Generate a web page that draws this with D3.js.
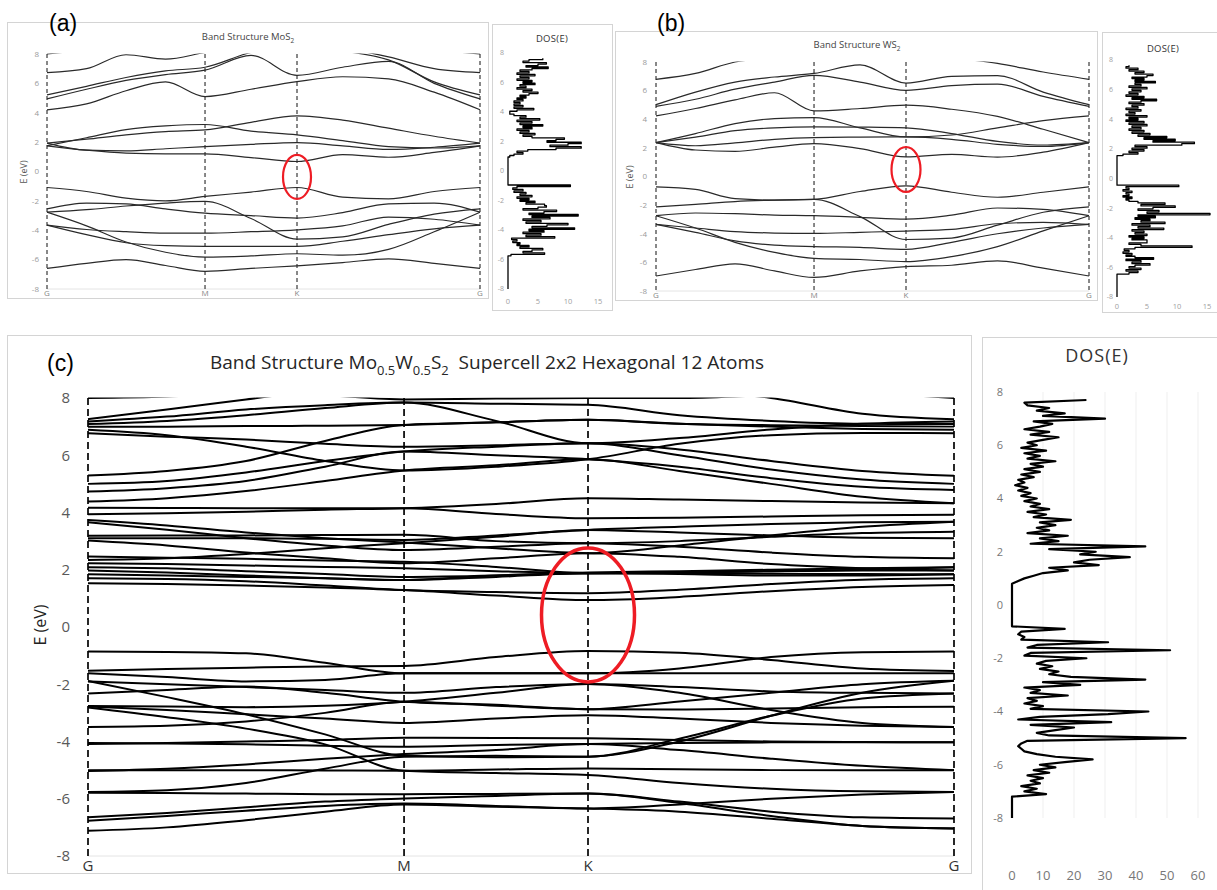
<!DOCTYPE html>
<html>
<head>
<meta charset="utf-8">
<script src="https://cdn.jsdelivr.net/npm/d3@7"></script>
<style>
  html, body { margin: 0; padding: 0; background: #fff; }
  svg { display: block; font-family: "Open Sans", "Noto Sans", sans-serif; }
</style>
</head>
<body>
<svg id="fig" width="1217" height="890"></svg>
<script>
// ---------- k-path sampling (G -> M -> K -> G) ----------
const kNodes = [0, 0.25, 0.5, 0.75, 1, 1.291, 1.582, 1.871, 2.161, 2.450, 2.740];
const kTickPos = [0, 1, 1.582, 2.740];
const kTickLabels = ["G", "M", "K", "G"];
const energyTicks = [-8, -6, -4, -2, 0, 2, 4, 6, 8];
const dosTicksSmall = [0, 5, 10, 15];
const dosTicksLarge = [0, 10, 20, 30, 40, 50, 60];

// ---------- band energies (eV) at the k samples above ----------
const bandsMoS2 = [
  [1.75, 1.45, 1.25, 1.20, 1.20, 0.95, 0.68, 1.15, 0.97, 1.30, 1.75],
  [1.93, 1.45, 1.40, 1.55, 1.70, 1.85, 1.97, 1.75, 1.50, 1.65, 1.93],
  [1.93, 2.20, 2.50, 2.72, 2.83, 3.35, 3.79, 3.50, 2.95, 2.40, 1.93],
  [1.75, 2.30, 2.85, 3.10, 3.20, 2.75, 2.49, 2.10, 1.70, 1.60, 1.75],
  [4.20, 4.60, 5.50, 6.10, 5.10, 5.60, 6.12, 6.45, 6.30, 5.40, 4.20],
  [4.94, 5.60, 6.20, 6.60, 6.90, 7.90, 6.55, 7.10, 7.50, 6.00, 4.94],
  [5.22, 5.80, 6.40, 6.85, 7.10, 8.10, 8.50, 8.20, 7.60, 6.10, 5.22],
  [6.73, 7.00, 7.95, 7.65, 8.10, 8.60, 8.60, 8.40, 7.80, 7.00, 6.73],
  [8.00, 8.30, 8.70, 9.00, 9.00, 9.00, 9.00, 9.00, 8.70, 8.30, 8.00],
  [-1.09, -1.36, -1.81, -2.00, -1.70, -1.40, -1.09, -1.75, -1.86, -1.36, -1.09],
  [-2.54, -2.15, -2.20, -2.55, -2.84, -3.00, -3.17, -2.80, -2.20, -2.15, -2.77],
  [-2.77, -2.60, -2.35, -2.15, -2.04, -3.20, -4.60, -4.45, -3.60, -2.90, -2.54],
  [-3.65, -3.95, -4.10, -4.20, -4.20, -4.10, -3.97, -3.70, -3.10, -3.25, -3.65],
  [-3.65, -4.30, -4.85, -5.05, -5.10, -5.10, -5.10, -4.75, -4.30, -3.90, -3.65],
  [-2.77, -3.70, -4.80, -5.50, -5.83, -5.75, -5.60, -5.70, -5.30, -4.10, -2.77],
  [-6.60, -6.25, -6.00, -6.40, -6.80, -6.60, -6.42, -6.20, -5.95, -6.25, -6.60]
];

const bandsWS2 = [
  [2.37, 1.85, 1.75, 2.05, 2.30, 1.95, 1.37, 1.55, 1.35, 1.70, 2.37],
  [2.37, 2.15, 2.35, 2.60, 2.72, 2.75, 2.77, 2.60, 2.25, 2.10, 2.37],
  [2.37, 2.75, 3.20, 3.40, 3.47, 3.45, 3.40, 3.00, 2.45, 2.20, 2.37],
  [2.37, 3.00, 3.70, 4.05, 4.12, 3.40, 2.77, 2.90, 3.40, 3.90, 4.23],
  [4.23, 4.75, 5.35, 5.85, 4.58, 4.75, 4.98, 4.70, 4.20, 3.30, 2.37],
  [4.90, 5.40, 6.10, 6.60, 7.07, 6.60, 6.02, 6.35, 6.45, 5.60, 4.90],
  [5.02, 5.90, 6.60, 6.95, 7.20, 7.80, 6.53, 7.00, 7.05, 5.90, 5.02],
  [6.79, 7.20, 8.00, 8.30, 8.60, 8.90, 8.60, 8.30, 7.90, 7.30, 6.79],
  [-0.72, -0.90, -1.55, -1.65, -1.60, -1.05, -0.65, -1.10, -1.45, -1.10, -0.72],
  [-2.12, -1.95, -1.75, -1.65, -1.60, -2.80, -4.40, -4.30, -3.40, -2.50, -2.12],
  [-2.74, -2.55, -2.60, -2.70, -2.74, -2.85, -2.98, -2.70, -2.20, -2.30, -2.74],
  [-3.35, -3.60, -3.85, -3.95, -3.98, -3.90, -3.81, -3.70, -3.30, -3.20, -3.35],
  [-3.35, -3.90, -4.50, -4.80, -4.90, -4.95, -5.09, -4.60, -4.00, -3.60, -3.35],
  [-2.74, -3.60, -4.60, -5.30, -5.72, -5.80, -5.95, -5.60, -4.90, -3.80, -2.74],
  [-6.95, -6.50, -6.10, -6.60, -7.05, -6.60, -6.30, -6.20, -5.90, -6.40, -6.95]
];

const bandsAlloy = [
  // valence
  [-0.86, -0.87, -0.92, -1.25, -1.62, -1.62, -1.62, -1.45, -1.05, -0.88, -0.86],
  [-1.53, -1.47, -1.42, -1.38, -1.36, -1.05, -0.84, -0.90, -1.15, -1.45, -1.54],
  [-1.62, -1.75, -1.90, -1.85, -1.62, -1.62, -1.62, -1.62, -1.62, -1.62, -1.62],
  [-1.89, -2.45, -3.05, -3.75, -4.50, -4.55, -4.53, -4.00, -3.10, -2.30, -1.88],
  [-1.90, -2.00, -2.10, -2.20, -2.30, -2.10, -1.99, -2.10, -2.25, -2.30, -2.32],
  [-2.32, -2.20, -2.08, -2.30, -2.61, -2.72, -2.87, -2.88, -2.85, -2.80, -2.79],
  [-2.76, -2.78, -2.80, -2.75, -2.61, -2.30, -1.99, -2.30, -2.90, -3.35, -3.49],
  [-2.81, -3.15, -3.55, -4.10, -5.02, -5.10, -5.17, -5.45, -5.65, -5.74, -5.76],
  [-3.49, -3.45, -3.30, -3.00, -2.61, -2.75, -2.87, -2.60, -2.30, -2.00, -1.88],
  [-2.78, -2.90, -3.05, -3.20, -3.35, -3.20, -3.08, -3.20, -3.35, -3.45, -3.49],
  [-4.05, -4.07, -4.10, -4.15, -4.18, -4.12, -4.09, -4.05, -4.03, -4.03, -4.03],
  [-4.09, -4.05, -4.00, -3.95, -3.87, -3.88, -3.89, -3.95, -4.00, -4.02, -4.03],
  [-5.00, -5.00, -5.00, -5.01, -5.02, -4.98, -4.94, -4.97, -5.00, -5.00, -5.00],
  [-5.03, -4.95, -4.80, -4.60, -4.44, -4.30, -4.09, -4.30, -4.60, -4.85, -5.00],
  [-5.76, -5.70, -5.45, -4.95, -4.53, -4.50, -4.53, -3.90, -3.10, -2.50, -2.32],
  [-5.79, -5.80, -5.82, -5.84, -5.84, -5.83, -5.82, -6.10, -6.45, -6.65, -6.69],
  [-6.65, -6.50, -6.30, -6.10, -5.99, -5.90, -5.82, -6.15, -6.60, -6.95, -7.04],
  [-6.77, -6.60, -6.42, -6.25, -6.17, -6.25, -6.34, -6.20, -6.00, -5.85, -5.76],
  [-7.12, -7.00, -6.75, -6.45, -6.20, -6.28, -6.34, -6.45, -6.70, -6.95, -7.04],
  // conduction
  [1.53, 1.50, 1.45, 1.38, 1.29, 1.10, 0.94, 1.05, 1.25, 1.40, 1.47],
  [1.70, 1.68, 1.60, 1.45, 1.29, 1.22, 1.18, 1.30, 1.50, 1.65, 1.70],
  [1.84, 1.80, 1.75, 1.70, 1.64, 1.75, 1.88, 1.85, 1.80, 1.80, 1.84],
  [1.97, 1.90, 1.80, 1.70, 1.64, 1.80, 1.88, 1.90, 1.95, 1.97, 1.97],
  [2.09, 2.05, 1.95, 1.85, 1.75, 1.80, 1.90, 1.95, 2.00, 2.05, 2.09],
  [2.23, 2.20, 2.15, 2.10, 2.05, 1.95, 1.88, 1.88, 1.86, 1.85, 1.84],
  [2.34, 2.40, 2.55, 2.75, 2.93, 3.15, 3.39, 3.30, 3.20, 3.12, 3.10],
  [2.46, 2.42, 2.38, 2.32, 2.28, 2.10, 1.88, 1.90, 1.95, 2.00, 2.09],
  [3.02, 2.85, 2.60, 2.40, 2.23, 2.40, 2.58, 2.45, 2.20, 2.05, 1.97],
  [3.10, 3.10, 3.10, 3.08, 3.04, 3.20, 3.39, 3.50, 3.60, 3.66, 3.68],
  [3.19, 3.20, 3.20, 3.21, 3.22, 3.00, 2.93, 3.00, 3.15, 3.28, 3.33],
  [3.66, 3.40, 3.10, 2.85, 2.69, 2.80, 2.93, 2.80, 2.60, 2.45, 2.40],
  [3.74, 3.55, 3.30, 3.10, 2.95, 2.75, 2.58, 2.85, 3.20, 3.50, 3.68],
  [3.94, 3.97, 4.03, 4.10, 4.15, 4.30, 4.50, 4.45, 4.40, 4.35, 4.32],
  [4.17, 4.16, 4.15, 4.15, 4.15, 3.95, 3.80, 3.82, 3.86, 3.90, 3.92],
  [4.38, 4.50, 4.75, 5.10, 5.47, 5.65, 5.86, 5.45, 5.00, 4.55, 4.32],
  [4.73, 4.85, 5.10, 5.60, 6.13, 6.00, 5.86, 5.60, 5.20, 4.90, 4.79],
  [5.00, 5.10, 5.40, 5.80, 6.13, 6.30, 6.42, 6.00, 5.50, 5.15, 5.00],
  [5.29, 5.45, 5.80, 6.50, 7.06, 7.15, 7.24, 7.10, 7.00, 6.92, 6.89],
  [6.77, 6.65, 6.55, 6.40, 6.30, 6.35, 6.42, 6.20, 5.80, 5.45, 5.28],
  [6.89, 6.70, 6.30, 5.80, 5.47, 5.60, 5.86, 6.40, 6.70, 6.78, 6.77],
  [7.00, 7.00, 7.02, 7.03, 7.06, 7.15, 7.24, 7.10, 7.05, 7.02, 7.00],
  [7.09, 7.20, 7.40, 7.65, 7.84, 7.80, 7.76, 7.40, 7.20, 7.10, 7.09],
  [7.18, 7.35, 7.60, 7.75, 7.84, 7.20, 6.42, 6.60, 6.90, 7.10, 7.18],
  [7.26, 7.60, 7.95, 8.30, 8.50, 8.50, 8.40, 8.30, 8.00, 7.45, 7.26],
  [8.00, 8.05, 8.20, 8.10, 7.95, 7.98, 8.00, 8.00, 8.10, 8.15, 8.00]
];

// ---------- density of states, sampled every 0.1 eV from -8.0 eV ----------
const dosStart = -8.0;
const dosStep = 0.1;

const dosMoS2 = [
  0, 0, 0, 0, 0, 0, 0, 0, 0, 0,                         // -8.0 .. -7.1
  0, 0, 0, 0, 0, 0, 0, 0, 0, 0,                         // -7.0 .. -6.1
  0, 0, 0, 0.5, 6.1, 2.5, 4.0, 5.8, 2.0, 3.5,           // -6.0 .. -5.1
  1.5, 2.0, 0.8, 1.5, 0.6, 7.8, 3.0, 5.5, 2.5, 6.0,     // -5.0 .. -4.1
  3.5, 11.1, 4.0, 6.5, 10.0, 3.0, 5.5, 2.5, 7.0, 4.0,   // -4.0 .. -3.1
  11.7, 3.5, 6.0, 8.1, 2.5, 5.0, 6.4, 6.1, 3.0, 4.5,    // -3.0 .. -2.1
  2.0, 3.5, 1.5, 4.0, 2.0, 3.0, 1.0, 2.5, 0.8, 1.5,     // -2.0 .. -1.1
  10.4, 0, 0, 0, 0, 0, 0, 0, 0, 0,                      // -1.0 .. -0.1
  0, 0, 0, 0, 0, 0, 0, 0, 0, 0,                         //  0.0 ..  0.9
  0.3, 1.0, 2.5, 1.5, 3.3, 8.0, 12.2, 7.0, 10.0, 12.2,  //  1.0 ..  1.9
  6.5, 8.0, 9.4, 4.0, 2.5, 4.5, 2.0, 3.5, 1.5, 4.0,     //  2.0 ..  2.9
  2.5, 5.8, 2.0, 4.0, 1.5, 5.3, 2.0, 3.0, 1.0, 0.3,     //  3.0 ..  3.9
  0.3, 1.5, 4.3, 1.0, 2.5, 1.0, 2.0, 1.0, 2.5, 1.5,     //  4.0 ..  4.9
  3.0, 2.0, 3.5, 5.0, 2.5, 4.0, 1.5, 3.0, 2.0, 4.5,     //  5.0 ..  5.9
  2.5, 4.0, 1.5, 3.5, 2.0, 4.5, 1.5, 3.5, 2.0, 4.0,     //  6.0 ..  6.9
  6.7, 3.0, 5.0, 6.4, 2.5, 3.5, 5.8                     //  7.0 ..  7.6
];

const dosWS2 = [
  0, 0, 0, 0, 0, 0, 0, 0, 0, 0,                         // -8.0 .. -7.1
  0, 0, 0, 0, 0, 0, 2.0, 3.5, 1.5, 4.0,                 // -7.0 .. -6.1
  2.0, 3.0, 5.5, 2.5, 4.0, 1.5, 6.1, 3.0, 1.5, 2.5,     // -6.0 .. -5.1
  1.0, 2.0, 1.2, 3.0, 12.5, 4.0, 2.0, 5.0, 5.0, 2.5,    // -5.0 .. -4.1
  4.5, 2.0, 5.0, 3.0, 4.5, 2.5, 7.8, 3.5, 5.5, 2.5,     // -4.0 .. -3.1
  8.0, 4.0, 5.5, 3.0, 6.4, 3.5, 15.5, 5.0, 7.0, 3.5,    // -3.0 .. -2.1
  6.0, 9.7, 4.0, 8.0, 3.5, 2.0, 1.5, 2.5, 1.0, 2.0,     // -2.0 .. -1.1
  1.5, 2.5, 1.0, 2.0, 1.5, 10.3, 0, 0, 0, 0,            // -1.0 .. -0.1
  0, 0, 0, 0, 0, 0, 0, 0, 0, 0,                         //  0.0 ..  0.9
  0, 0, 0, 0, 0, 0, 1.0, 3.5, 2.0, 4.5,                 //  1.0 ..  1.9
  2.5, 5.0, 3.0, 10.8, 12.9, 6.0, 9.7, 4.5, 8.3, 3.5,   //  2.0 ..  2.9
  5.5, 2.5, 4.5, 2.0, 4.0, 2.5, 5.0, 2.0, 4.5, 1.5,     //  3.0 ..  3.9
  3.5, 2.0, 5.0, 1.5, 3.0, 2.0, 4.0, 1.5, 3.5, 2.5,     //  4.0 ..  4.9
  4.5, 2.0, 4.0, 6.6, 2.5, 4.5, 1.5, 3.5, 2.0, 4.0,     //  5.0 ..  5.9
  2.5, 5.0, 2.0, 4.0, 3.0, 6.4, 3.0, 4.5, 2.5, 5.0,     //  6.0 ..  6.9
  6.0, 3.0, 4.5, 2.0, 3.5, 1.5, 2.0                     //  7.0 ..  7.6
];

const dosAlloy = [
  0, 0, 0, 0, 0, 0, 0, 0, 0, 11,                        // -8.0 .. -7.1
  4, 8, 3, 9, 6, 10, 5, 12, 7, 14,                      // -7.0 .. -6.1
  9, 17, 26, 14, 8, 4, 3, 2, 3, 5,                      // -6.0 .. -5.1
  56, 12, 8, 14, 20, 6, 32, 2, 9, 31,                   // -5.0 .. -4.1
  44, 6, 10, 4, 8, 5, 18, 6, 9, 4,                      // -4.0 .. -3.1
  22, 10, 43, 19, 12, 15, 9, 13, 8, 11,                 // -3.0 .. -2.1
  24, 4, 6, 51, 5, 8, 31, 3, 4, 2,                      // -2.0 .. -1.1
  3, 17, 0, 0, 0, 0, 0, 0, 0, 0,                        // -1.0 .. -0.1
  0, 0, 0, 0, 0, 0, 0, 0, 0, 2,                         //  0.0 ..  0.9
  4, 7, 10, 18, 12, 28, 20, 25, 38, 22,                 //  1.0 ..  1.9
  27, 12, 43, 6, 15, 9, 18, 5, 12, 8,                   //  2.0 ..  2.9
  14, 9, 19, 7, 11, 5, 12, 6, 9, 4,                     //  3.0 ..  3.9
  8, 3, 6, 2, 5, 1, 4, 2, 7, 3,                         //  4.0 ..  4.9
  9, 4, 10, 6, 14, 5, 9, 4, 11, 3,                      //  5.0 ..  5.9
  8, 5, 10, 15, 6, 12, 4, 9, 13, 7,                     //  6.0 ..  6.9
  30, 10, 17, 8, 12, 5, 4, 24                           //  7.0 ..  7.7
];

// ---------- drawing ----------
const svg = d3.select("#fig");
const defs = svg.append("defs");

function frame(x, y, w, h) {
  svg.append("rect")
    .attr("x", x + 0.5).attr("y", y + 0.5)
    .attr("width", w).attr("height", h)
    .attr("fill", "none").attr("stroke", "#d4d4d4").attr("stroke-width", 1);
}

function richText(x, y, parts, size, color, anchor) {
  const t = svg.append("text")
    .attr("x", x).attr("y", y)
    .attr("font-size", size).attr("fill", color)
    .attr("text-anchor", anchor)
    .style("white-space", "pre");
  let shift = 0;
  parts.forEach(p => {
    const s = t.append("tspan").text(p.text);
    if (p.sub) {
      const d = size * 0.3;
      s.attr("font-size", size * 0.68).attr("dy", d - shift);
      shift = d;
    } else if (shift) {
      s.attr("dy", -shift);
      shift = 0;
    }
  });
  return t;
}

function panelLabel(x, y, text, size) {
  svg.append("text").attr("x", x).attr("y", y)
    .attr("font-family", "Liberation Sans, Arial, sans-serif")
    .attr("font-size", size).attr("fill", "#000").text(text);
}

function drawBands(bands, o) {
  const x = d3.scaleLinear()
    .domain([kTickPos[0], kTickPos[kTickPos.length - 1]])
    .range([o.left, o.right]);
  const y = d3.scaleLinear().domain([-8, 8]).range([o.bottom, o.top]);
  const g = svg.append("g");

  const clipId = "clip-" + o.id;
  defs.append("clipPath").attr("id", clipId).append("rect")
    .attr("x", o.left - 3).attr("y", y(8) - 0.5)
    .attr("width", o.right - o.left + 6).attr("height", y(-8) - y(8) + 1);

  // faint base line along the bottom of the energy window
  g.append("line")
    .attr("x1", x(kTickPos[0])).attr("x2", x(kTickPos[3]))
    .attr("y1", y(-8)).attr("y2", y(-8))
    .attr("stroke", "#e4e4e4").attr("stroke-width", 1);

  // dashed high-symmetry markers
  g.selectAll("line.sym").data(kTickPos).join("line")
    .attr("class", "sym")
    .attr("x1", d => x(d)).attr("x2", d => x(d))
    .attr("y1", y(8)).attr("y2", y(-8))
    .attr("stroke", "#111").attr("stroke-width", o.dashW)
    .attr("stroke-dasharray", o.dash);

  // band lines
  const line = d3.line()
    .x((d, i) => x(kNodes[i]))
    .y(d => y(d))
    .curve(d3.curveMonotoneX);
  g.append("g").attr("clip-path", `url(#${clipId})`)
    .selectAll("path").data(bands).join("path")
    .attr("d", line)
    .attr("fill", "none")
    .attr("stroke", o.lineColor)
    .attr("stroke-width", o.lineW)
    .attr("stroke-linejoin", "round");

  // energy tick labels
  g.selectAll("text.yt").data(energyTicks).join("text")
    .attr("class", "yt")
    .attr("x", o.tickX).attr("y", d => y(d)).attr("dy", "0.35em")
    .attr("text-anchor", "end")
    .attr("font-size", o.tickSize).attr("fill", o.tickColor)
    .text(d => d);

  // k-point labels
  g.selectAll("text.kt").data(kTickPos).join("text")
    .attr("class", "kt")
    .attr("x", d => x(d)).attr("y", o.kLabelY)
    .attr("text-anchor", "middle")
    .attr("font-size", o.kLabelSize).attr("fill", o.kLabelColor)
    .text((d, i) => kTickLabels[i]);

  // axis title
  g.append("text")
    .attr("transform", `translate(${o.axisX},${o.axisY}) rotate(-90)`)
    .attr("text-anchor", "middle")
    .attr("font-size", o.axisSize).attr("fill", o.axisColor)
    .text("E (eV)");

  // red ring around the gap at K
  g.append("ellipse")
    .attr("cx", x(kTickPos[2]))
    .attr("cy", y(o.ring.center))
    .attr("rx", o.ring.rx)
    .attr("ry", y(o.ring.center - o.ring.half) - y(o.ring.center))
    .attr("fill", "none").attr("stroke", "#ee1c24").attr("stroke-width", o.ring.w);
}

function drawDos(values, o) {
  const x = d3.scaleLinear().domain([0, o.max]).range([o.left, o.right]);
  const y = d3.scaleLinear().domain([-8, 8]).range([o.bottom, o.top]);
  const g = svg.append("g");

  if (o.grid) {
    g.selectAll("line.grid").data(o.ticks.slice(1)).join("line")
      .attr("class", "grid")
      .attr("x1", d => x(d)).attr("x2", d => x(d))
      .attr("y1", y(8)).attr("y2", y(-8))
      .attr("stroke", "#efefef").attr("stroke-width", 1);
  }

  let path;
  if (o.binned) {
    // each sample spans its own 0.1 eV bin, neighbouring bins joined horizontally
    const steps = [];
    values.forEach((v, i) => {
      const e = dosStart + i * dosStep;
      steps.push([v, Math.max(-8, e - dosStep / 2)], [v, e + dosStep / 2]);
    });
    path = d3.line().x(d => x(d[0])).y(d => y(d[1]))(steps);
  } else {
    path = d3.line().x(d => x(d)).y((d, i) => y(dosStart + i * dosStep))(values);
  }
  g.append("path")
    .attr("d", path)
    .attr("fill", "none").attr("stroke", "#000")
    .attr("stroke-width", o.lineW).attr("stroke-linejoin", "round");

  g.selectAll("text.yt").data(energyTicks).join("text")
    .attr("class", "yt")
    .attr("x", o.tickX).attr("y", d => y(d)).attr("dy", "0.35em")
    .attr("text-anchor", "end")
    .attr("font-size", o.tickSize).attr("fill", o.tickColor)
    .text(d => d);

  g.selectAll("text.xt").data(o.ticks).join("text")
    .attr("class", "xt")
    .attr("x", d => x(d)).attr("y", o.xLabelY)
    .attr("text-anchor", "middle")
    .attr("font-size", o.xTickSize).attr("fill", o.tickColor)
    .text(d => d);

  g.append("text")
    .attr("x", o.titleX).attr("y", o.titleY)
    .attr("text-anchor", "middle")
    .attr("font-size", o.titleSize).attr("fill", "#333")
    .attr("letter-spacing", o.titleSpacing)
    .text("DOS(E)");
}

// ----- frames -----
frame(7, 22, 481, 276);     // MoS2 bands
frame(492, 24, 120, 286);   // MoS2 DOS
frame(615, 31, 482, 269);   // WS2 bands
frame(1102, 32, 130, 280);  // WS2 DOS
frame(7, 335, 964, 538);    // alloy bands
frame(982, 337, 250, 570);  // alloy DOS

// ----- (a) MoS2 -----
panelLabel(49, 31, "(a)", 23);
richText(248, 40, [{ text: "Band Structure MoS" }, { text: "2", sub: true }], 9.5, "#444", "middle");
drawBands(bandsMoS2, {
  id: "a", left: 47, right: 480, top: 54, bottom: 289,
  lineColor: "#2a2a2a", lineW: 1.2, dashW: 1, dash: "4,3",
  tickX: 39, tickSize: 8, tickColor: "#9a9a9a",
  kLabelY: 296, kLabelSize: 8, kLabelColor: "#888",
  axisX: 27, axisY: 172, axisSize: 9, axisColor: "#555",
  ring: { center: -0.37, half: 1.5, rx: 14, w: 2.2 }
});
drawDos(dosMoS2, {
  left: 508, right: 598, top: 53, bottom: 289, max: 15, ticks: dosTicksSmall,
  lineW: 1.3, binned: true, tickX: 504, tickSize: 7, xTickSize: 7.5, tickColor: "#a0a0a0",
  xLabelY: 304, titleX: 552, titleY: 42, titleSize: 9.5, titleSpacing: 0.3, grid: false
});

// ----- (b) WS2 -----
panelLabel(657, 31, "(b)", 23);
richText(857, 48, [{ text: "Band Structure WS" }, { text: "2", sub: true }], 9.5, "#444", "middle");
drawBands(bandsWS2, {
  id: "b", left: 656, right: 1089, top: 62, bottom: 291,
  lineColor: "#2a2a2a", lineW: 1.2, dashW: 1, dash: "4,3",
  tickX: 647, tickSize: 8, tickColor: "#9a9a9a",
  kLabelY: 298, kLabelSize: 8, kLabelColor: "#888",
  axisX: 633, axisY: 177, axisSize: 9, axisColor: "#555",
  ring: { center: 0.49, half: 1.57, rx: 14.5, w: 2.2 }
});
drawDos(dosWS2, {
  left: 1117, right: 1207, top: 60, bottom: 297, max: 15, ticks: dosTicksSmall,
  lineW: 1.3, binned: true, tickX: 1113, tickSize: 7, xTickSize: 7.5, tickColor: "#a0a0a0",
  xLabelY: 309, titleX: 1163, titleY: 52, titleSize: 9.5, titleSpacing: 0.3, grid: false
});

// ----- (c) Mo0.5W0.5S2 supercell -----
panelLabel(47, 371, "(c)", 23);
richText(210, 369, [
  { text: "Band Structure Mo" }, { text: "0.5", sub: true },
  { text: "W" }, { text: "0.5", sub: true },
  { text: "S" }, { text: "2", sub: true },
  { text: "  Supercell 2x2 Hexagonal 12 Atoms" }
], 19, "#262626", "start");
drawBands(bandsAlloy, {
  id: "c", left: 88, right: 954, top: 398, bottom: 856,
  lineColor: "#000", lineW: 2, dashW: 1.8, dash: "7,4",
  tickX: 70, tickSize: 15, tickColor: "#595959",
  kLabelY: 871, kLabelSize: 15, kLabelColor: "#333",
  axisX: 46, axisY: 625, axisSize: 16, axisColor: "#222",
  ring: { center: 0.42, half: 2.34, rx: 46.5, w: 3.5 }
});
drawDos(dosAlloy, {
  left: 1012, right: 1198, top: 392, bottom: 818, max: 60, ticks: dosTicksLarge,
  lineW: 2.2, binned: false, tickX: 1003, tickSize: 11, xTickSize: 13, tickColor: "#777",
  xLabelY: 880, titleX: 1097, titleY: 362, titleSize: 18, titleSpacing: 1, grid: true
});
</script>
</body>
</html>
